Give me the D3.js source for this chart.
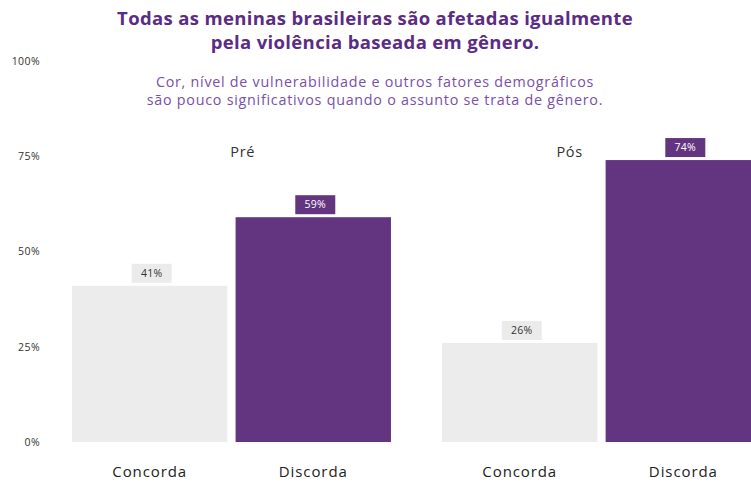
<!DOCTYPE html>
<html>
<head>
<meta charset="utf-8">
<script src="https://cdn.jsdelivr.net/npm/d3@7"></script>
<style>
  html, body { margin: 0; padding: 0; background: #fff; }
  svg { display: block; }
</style>
</head>
<body>
<svg id="chart" width="751" height="484"></svg>
<script>
const groups = ["Pré", "Pós"];
const categories = ["Concorda", "Discorda"];
const valuesPre = [41, 59];
const valuesPos = [26, 74];
const yTicks = [0, 25, 50, 75, 100];
const titleLines = ["Todas as meninas brasileiras são afetadas igualmente", "pela violência baseada em gênero."];
const subtitleLines = ["Cor, nível de vulnerabilidade e outros fatores demográficos", "são pouco significativos quando o assunto se trata de gênero."];

const data = [
  { group: groups[0], values: valuesPre },
  { group: groups[1], values: valuesPos }
];

const svg = d3.select("#chart");
const font = "'Open Sans', 'Noto Sans', sans-serif";
const purple = "#633581";
const light = "#ececec";

const y = d3.scaleLinear().domain([0, 100]).range([442, 61]);
const x0 = d3.scaleBand().domain(groups).range([72, 761]).paddingInner(0.138);
const x1 = d3.scaleBand().domain(categories).range([0, x0.bandwidth()]).paddingInner(0.05);

// title
svg.append("g").selectAll("text").data(titleLines).join("text")
  .attr("x", 375).attr("y", (d, i) => 25 + i * 24)
  .attr("text-anchor", "middle")
  .attr("font-family", font).attr("font-weight", 700).attr("font-size", 18.5)
  .attr("letter-spacing", 0.35)
  .attr("fill", "#5b2c85")
  .text(d => d);

svg.append("g").selectAll("text").data(subtitleLines).join("text")
  .attr("x", 375).attr("y", (d, i) => 87 + i * 18)
  .attr("text-anchor", "middle")
  .attr("font-family", font).attr("font-weight", 400).attr("font-size", 14.3)
  .attr("letter-spacing", 0.75)
  .attr("fill", "#7a4fa8")
  .text(d => d);

// y tick labels
svg.append("g").selectAll("text").data(yTicks).join("text")
  .attr("x", 40).attr("y", d => y(d) + 3.8)
  .attr("text-anchor", "end")
  .attr("font-family", font).attr("font-size", 10.5)
  .attr("letter-spacing", 0.4)
  .attr("fill", "#333")
  .text(d => d + "%");

const g = svg.append("g").selectAll("g").data(data).join("g")
  .attr("transform", d => `translate(${x0(d.group)},0)`);

const bars = g.selectAll("g.bar").data(d => d.values.map((v, i) => ({ cat: categories[i], v, i })))
  .join("g").attr("class", "bar");

bars.append("rect")
  .attr("x", d => x1(d.cat)).attr("width", x1.bandwidth())
  .attr("y", d => y(d.v)).attr("height", d => y(0) - y(d.v))
  .attr("fill", d => d.i === 0 ? light : purple);

const boxW = 40, boxH = 19;
bars.append("rect")
  .attr("x", d => x1(d.cat) + x1.bandwidth() / 2 - boxW / 2 + 2)
  .attr("y", d => y(d.v) - boxH - 3)
  .attr("width", boxW).attr("height", boxH)
  .attr("fill", d => d.i === 0 ? "#ebebeb" : purple);

bars.append("text")
  .attr("x", d => x1(d.cat) + x1.bandwidth() / 2 + 2)
  .attr("y", d => y(d.v) - 3 - boxH / 2 + 3.6)
  .attr("text-anchor", "middle")
  .attr("font-family", font).attr("font-size", 10.5)
  .attr("letter-spacing", 0.3)
  .attr("fill", d => d.i === 0 ? "#333" : "#fff")
  .text(d => d.v + "%");

// category labels
bars.append("text")
  .attr("x", d => x1(d.cat) + x1.bandwidth() / 2)
  .attr("y", 477)
  .attr("text-anchor", "middle")
  .attr("font-family", font).attr("font-size", 15)
  .attr("letter-spacing", 0.9)
  .attr("fill", "#222")
  .text(d => d.cat);

// group labels
const groupLabelFrac = { "Pré": 0.535, "Pós": 0.40 };
g.append("text")
  .attr("x", d => x0.bandwidth() * groupLabelFrac[d.group])
  .attr("y", 157)
  .attr("text-anchor", "middle")
  .attr("font-family", font).attr("font-size", 14.5)
  .attr("letter-spacing", 0.6)
  .attr("fill", "#333")
  .text(d => d.group);
</script>
</body>
</html>
